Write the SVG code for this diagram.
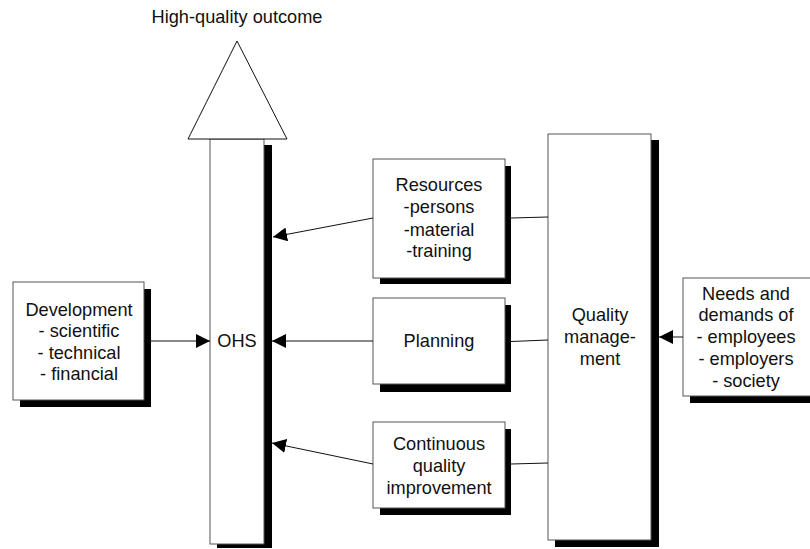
<svg xmlns="http://www.w3.org/2000/svg" width="810" height="549" viewBox="0 0 810 549">
<defs>
<marker id="arr" markerUnits="userSpaceOnUse" markerWidth="14" markerHeight="14" viewBox="0 0 14 14" refX="14" refY="7" orient="auto">
<path d="M0,0 L14,7 L0,14 Z" fill="#000"/>
</marker>
</defs>
<style>
.box{fill:#fff;stroke:#555;stroke-width:1}
.sh{fill:#000}
.t{font-family:"Liberation Sans",Arial,sans-serif;font-size:18.2px;fill:#111;text-anchor:middle}
.c{stroke:#111;stroke-width:1;fill:none}
.ca{stroke:#111;stroke-width:1;fill:none;marker-end:url(#arr)}
</style>
<rect width="810" height="549" fill="#fff"/>

<g id="outcome">
<text class="t" x="237" y="23">High-quality outcome</text>
</g>

<g id="ohs">
<rect class="sh" x="217" y="145" width="55" height="403"/>
<rect class="box" x="210" y="139" width="54" height="405"/>
<polygon points="237,41 188,139 287,139" fill="#fff" stroke="#111" stroke-width="1"/>
<text class="t" x="237" y="347">OHS</text>
</g>

<g id="development">
<rect class="sh" x="20" y="289" width="131" height="118"/>
<rect class="box" x="13" y="282" width="131" height="118"/>
<text class="t" x="79" y="316">Development</text>
<text class="t" x="79" y="337">- scientific</text>
<text class="t" x="79" y="358.5">- technical</text>
<text class="t" x="79" y="380">- financial</text>
</g>

<g id="resources">
<rect class="sh" x="380" y="166" width="131" height="118"/>
<rect class="box" x="373" y="159" width="132" height="119"/>
<text class="t" x="439" y="191">Resources</text>
<text class="t" x="439" y="213">-persons</text>
<text class="t" x="439" y="236">-material</text>
<text class="t" x="439" y="257">-training</text>
</g>

<g id="planning">
<rect class="sh" x="380" y="305" width="131" height="87"/>
<rect class="box" x="373" y="298" width="132" height="86"/>
<text class="t" x="439" y="347">Planning</text>
</g>

<g id="continuous">
<rect class="sh" x="380" y="429" width="131" height="86"/>
<rect class="box" x="373" y="422" width="132" height="86"/>
<text class="t" x="439" y="450">Continuous</text>
<text class="t" x="439" y="472">quality</text>
<text class="t" x="439" y="494">improvement</text>
</g>

<g id="quality-management">
<rect class="sh" x="555" y="140" width="104" height="407"/>
<rect class="box" x="548" y="134" width="103" height="406"/>
<text class="t" x="600" y="321">Quality</text>
<text class="t" x="600" y="343">manage-</text>
<text class="t" x="600" y="365">ment</text>
</g>

<g id="needs">
<rect class="sh" x="690" y="285" width="140" height="118"/>
<rect class="box" x="683" y="278" width="140" height="118"/>
<text class="t" x="746" y="300">Needs and</text>
<text class="t" x="746" y="321">demands of</text>
<text class="t" x="746" y="343">- employees</text>
<text class="t" x="746" y="365">- employers</text>
<text class="t" x="746" y="387">- society</text>
</g>

<g id="connectors">
<line class="ca" x1="144" y1="341" x2="210" y2="341"/>
<line class="ca" x1="373" y1="218" x2="273" y2="237"/>
<line class="ca" x1="373" y1="341" x2="272" y2="341"/>
<line class="ca" x1="373" y1="464" x2="272" y2="443"/>
<line class="c" x1="511" y1="218" x2="548" y2="217"/>
<line class="c" x1="511" y1="341.5" x2="548" y2="340"/>
<line class="c" x1="511" y1="464" x2="548" y2="463"/>
<line class="ca" x1="683" y1="337" x2="659" y2="337"/>
</g>
</svg>
